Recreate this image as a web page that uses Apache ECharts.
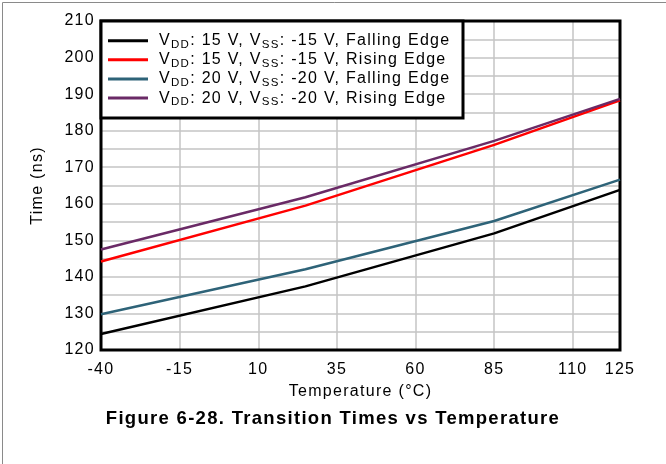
<!DOCTYPE html>
<html>
<head>
<meta charset="utf-8">
<script src="https://cdn.jsdelivr.net/npm/echarts@6/dist/echarts.min.js"></script>
<style>html,body{margin:0;padding:0;background:#fff}#c{width:666px;height:464px}</style>
</head>
<body>
<div id="c"></div>
<script>
var temps = [-40, 25, 85, 125];
var falling15 = [124.4, 137.4, 151.9, 163.8];
var rising15 = [144.2, 159.5, 176.1, 188.3];
var falling20 = [129.8, 142.1, 155.3, 166.6];
var rising20 = [147.5, 161.8, 177.2, 188.7];
var seriesNames = ['f15', 'r15', 'f20', 'r20'];
var seriesColors = ['#000000', '#ff0000', '#2e6378', '#6a2a66'];
var legendLabels = {
  f15: '{a|V}{s|DD}{a|: 15 V, V}{s|SS}{a|: -15 V, Falling Edge}',
  r15: '{a|V}{s|DD}{a|: 15 V, V}{s|SS}{a|: -15 V, Rising Edge}',
  f20: '{a|V}{s|DD}{a|: 20 V, V}{s|SS}{a|: -20 V, Falling Edge}',
  r20: '{a|V}{s|DD}{a|: 20 V, V}{s|SS}{a|: -20 V, Rising Edge}'
};
var allData = [falling15, rising15, falling20, rising20];

// wider letter spacing, like the reference's stretched type
(function () {
  var P = CanvasRenderingContext2D.prototype;
  if (!('letterSpacing' in P)) return;
  var mt = P.measureText, ft = P.fillText, st = P.strokeText;
  P.measureText = function (t) { this.letterSpacing = '1.3px'; return mt.call(this, t); };
  P.fillText = function () { this.letterSpacing = '1.3px'; return ft.apply(this, arguments); };
  P.strokeText = function () { this.letterSpacing = '1.3px'; return st.apply(this, arguments); };
})();

function pairs(ys) { return temps.map(function (t, i) { return [t, ys[i]]; }); }

var chart = echarts.init(document.getElementById('c'), null, {renderer: 'canvas'});
var font = 'Liberation Sans, Arial, sans-serif';
chart.setOption({
  animation: false,
  backgroundColor: '#ffffff',
  textStyle: {fontFamily: font},
  title: {
    text: 'Figure 6-28. Transition Times vs Temperature',
    left: 'center', top: 404,
    textStyle: {fontFamily: font, fontSize: 18.5, fontWeight: 'bold', color: '#000'}
  },
  grid: {left: 101, right: 46, top: 21, bottom: 114, show: true, borderColor: '#000', borderWidth: 3, backgroundColor: 'transparent', z: 2},
  graphic: [
    {type: 'rect', left: 0, top: 0, z: 1, shape: {width: 665, height: 463}, style: {fill: 'none', stroke: '#8a8a8a', lineWidth: 1}},
    {type: 'rect', x: 101, y: 21, z: 10, shape: {width: 362, height: 97}, style: {fill: '#fff', stroke: '#000', lineWidth: 3}}
  ],
  legend: {
    orient: 'vertical', left: 108, top: 32, itemWidth: 40, itemHeight: 3, itemGap: 0, z: 20,
    icon: 'rect', padding: 0,
    data: seriesNames,
    formatter: function (n) { return legendLabels[n]; },
    textStyle: {
      padding: [0, 0, 0, 6],
      rich: {
        a: {fontFamily: font, fontSize: 16, color: '#000', lineHeight: 17},
        s: {fontFamily: font, fontSize: 11.5, color: '#000', lineHeight: 10, verticalAlign: 'bottom', padding: [0, 0, -2, 0]}
      }
    }
  },
  xAxis: {
    type: 'value', min: -40, max: 125, interval: 25,
    name: 'Temperature (°C)', nameLocation: 'middle', nameGap: 22,
    nameTextStyle: {fontFamily: font, fontSize: 16, color: '#000'},
    axisLine: {show: false}, axisTick: {show: false},
    axisLabel: {fontFamily: font, fontSize: 16, color: '#000', margin: 11, showMaxLabel: true, showMinLabel: true, hideOverlap: false},
    splitLine: {show: true, lineStyle: {color: '#c4c4c4', width: 1.5}}
  },
  yAxis: {
    type: 'value', min: 120, max: 210, interval: 10,
    name: 'Time (ns)', nameLocation: 'middle', nameGap: 55, nameRotate: 90,
    nameTextStyle: {fontFamily: font, fontSize: 16, color: '#000'},
    axisLine: {show: false}, axisTick: {show: false},
    axisLabel: {fontFamily: font, fontSize: 16, color: '#000', margin: 6},
    splitLine: {show: true, lineStyle: {color: '#c4c4c4', width: 1.5}},
    minorTick: {show: false, splitNumber: 2},
    minorSplitLine: {show: true, lineStyle: {color: '#c4c4c4', width: 1.5}}
  },
  series: seriesNames.map(function (n, i) {
    return {
      name: n, type: 'line', data: pairs(allData[i]), symbol: 'none', z: 5,
      lineStyle: {color: seriesColors[i], width: 2.5}, itemStyle: {color: seriesColors[i]}
    };
  })
});
</script>
</body>
</html>
